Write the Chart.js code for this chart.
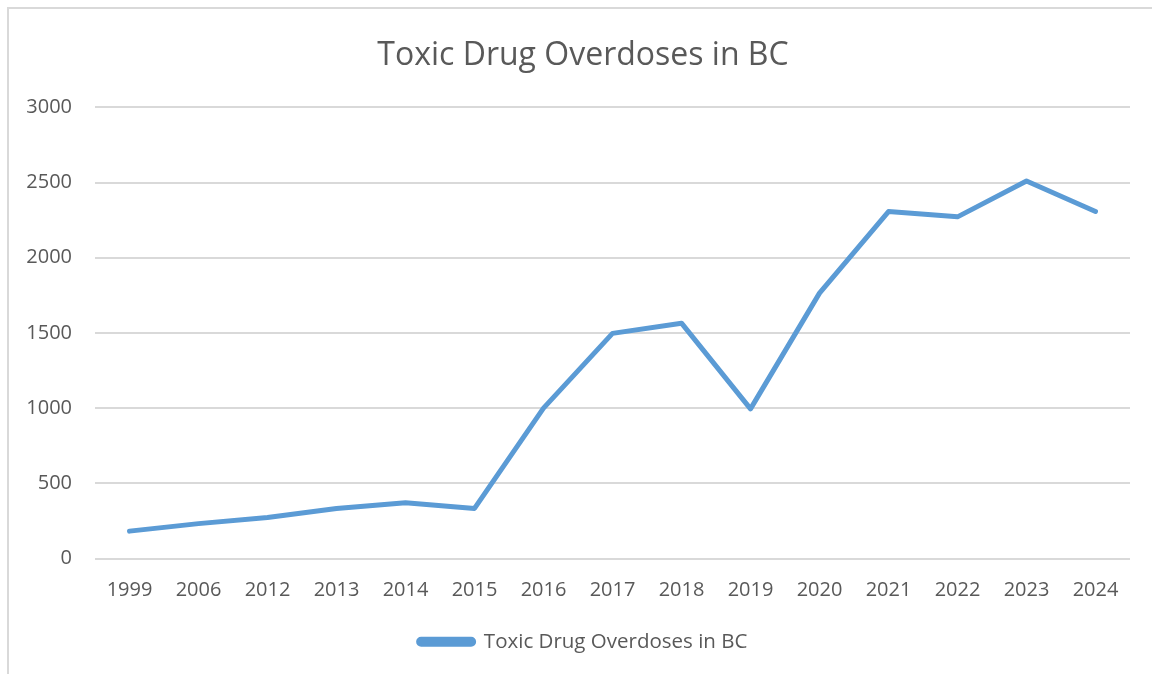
<!DOCTYPE html>
<html>
<head>
<meta charset="utf-8">
<script src="https://cdn.jsdelivr.net/npm/chart.js@4.4.1/dist/chart.umd.min.js"></script>
<style>
  html, body { margin: 0; padding: 0; background: #fff; }
  #marco {
    position: absolute; left: 7px; top: 7px; width: 1160px; height: 700px;
    border: 2px solid #d9d9d9; box-sizing: border-box;
  }
  #caja { position: absolute; left: 0; top: 0; width: 1152px; height: 674px; }
</style>
</head>
<body>
<div id="marco"></div>
<div id="caja"><canvas id="grafico"></canvas></div>
<script>
// datos
const anios = ["1999", "2006", "2012", "2013", "2014", "2015", "2016", "2017", "2018", "2019", "2020", "2021", "2022", "2023", "2024"];
const muertes = [182, 232, 272, 333, 370, 333, 1000, 1497, 1565, 995, 1765, 2307, 2272, 2511, 2308];
const marcasY = [0, 500, 1000, 1500, 2000, 2500, 3000];

const titulo = "Toxic Drug Overdoses in BC";
const azul = "#5b9bd5";
const gris = "#595959";
const fuente = "'Open Sans', 'Liberation Sans', sans-serif";

Chart.defaults.font.family = fuente;
Chart.defaults.color = gris;

new Chart(document.getElementById("grafico"), {
  type: "line",
  data: {
    labels: anios,
    datasets: [{
      label: titulo,
      data: muertes,
      borderColor: azul,
      backgroundColor: azul,
      borderWidth: 5,
      borderCapStyle: "round",
      borderJoinStyle: "round",
      pointRadius: 0,
      tension: 0
    }]
  },
  options: {
    responsive: true,
    maintainAspectRatio: false,
    animation: false,
    events: [],
    layout: { padding: { left: 14, right: 0, top: 0, bottom: 12 } },
    plugins: {
      title: {
        display: true,
        text: titulo,
        color: gris,
        font: { size: 32, weight: "normal" },
        padding: { top: 37, bottom: 32 }
      },
      legend: {
        position: "bottom",
        labels: {
          color: gris,
          font: { size: 20.5 },
          boxWidth: 55,
          boxHeight: 5,
          useBorderRadius: true,
          borderRadius: 2.5,
          padding: 17
        }
      },
      tooltip: { enabled: false }
    },
    scales: {
      x: {
        offset: true,
        grid: { display: false },
        border: { display: false },
        ticks: { font: { size: 20 }, padding: 12, maxRotation: 0 }
      },
      y: {
        min: 0,
        max: 3000,
        afterBuildTicks: (eje) => { eje.ticks = marcasY.map(v => ({ value: v })); },
        afterFit: (eje) => { eje.width = 81; },
        grid: { color: "#d9d9d9", lineWidth: 2, drawTicks: false },
        border: { display: false },
        ticks: { font: { size: 20 }, padding: 23, callback: (v) => String(v) }
      },
      // eje vacio a la derecha, solo para dejar margen
      margen: {
        type: "linear",
        position: "right",
        afterFit: (eje) => { eje.width = 22; },
        grid: { display: false },
        border: { display: false },
        ticks: { display: false }
      }
    }
  }
});
</script>
</body>
</html>
